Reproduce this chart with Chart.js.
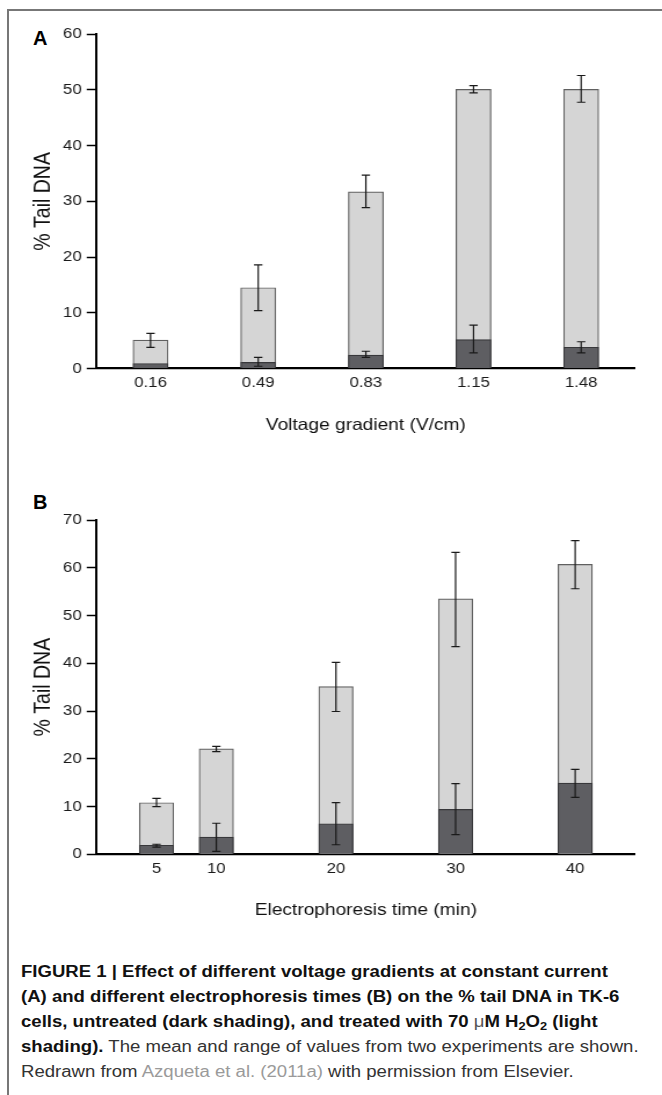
<!DOCTYPE html>
<html>
<head>
<meta charset="utf-8">
<script src="https://cdn.jsdelivr.net/npm/chart.js@4.4.1/dist/chart.umd.min.js"></script>
<style>
  html, body { margin: 0; padding: 0; background: #fff; }
  body { width: 662px; height: 1095px; position: relative; overflow: hidden;
         font-family: "Liberation Sans", Arial, sans-serif; }
  .frame { position: absolute; left: 7px; top: 9px; width: 700px; height: 1200px;
           border-top: 2px solid #777; border-left: 2px solid #777; }
  canvas { position: absolute; left: 0; }
  .letter { position: absolute; font-weight: bold; font-size: 20px; line-height: 20px; color: #000; }
  .caption { position: absolute; left: 21px; top: 959px; font-size: 16px; line-height: 25px;
             white-space: nowrap; transform: scaleX(1.16); transform-origin: 0 0; color: #333; }
  .caption b { color: #111; }
  .caption sub { font-size: 11px; vertical-align: -3px; line-height: 0; }
  .caption .mu { font-weight: normal; color: #555; }
  .caption .ref { color: #9a9a9a; }
</style>
</head>
<body>
<div class="frame"></div>

<div class="letter" style="left:33px; top:28px;">A</div>
<canvas id="chartA" width="571" height="450" style="top:0px; width:662px; height:450px;"></canvas>

<div class="letter" style="left:33px; top:492px;">B</div>
<canvas id="chartB" width="571" height="485" style="top:450px; width:662px; height:485px;"></canvas>

<div class="caption">
  <b>FIGURE 1 | Effect of different voltage gradients at constant current</b><br>
  <b>(A) and different electrophoresis times (B) on the % tail DNA in TK-6</b><br>
  <b>cells, untreated (dark shading), and treated with 70 <span class="mu">μ</span>M H<sub>2</sub>O<sub>2</sub> (light</b><br>
  <b>shading).</b> The mean and range of values from two experiments are shown.<br>
  Redrawn from <span class="ref">Azqueta et al. (2011a)</span> with permission from Elsevier.
</div>

<script>
// Panel A: voltage gradient
const voltageLabels = ['0.16', '0.49', '0.83', '1.15', '1.48'];
const voltTreated = [5.1, 14.5, 31.7, 50.1, 50.1];
const voltTreatedLow = [3.8, 10.4, 28.9, 49.5, 47.8];
const voltTreatedHigh = [6.3, 18.6, 34.7, 50.8, 52.6];
const voltControl = [0.9, 1.1, 2.4, 5.2, 3.8];
const voltControlLow = [null, 0.4, 2.0, 2.8, 2.8];
const voltControlHigh = [null, 2.0, 3.1, 7.8, 4.8];
const voltYTicks = [0, 10, 20, 30, 40, 50, 60];

// Panel B: electrophoresis time
const timeMinutes = [5, 10, 20, 30, 40];
const timeTreated = [10.8, 22.1, 35.1, 53.5, 60.7];
const timeTreatedLow = [10.0, 21.5, 29.9, 43.5, 55.6];
const timeTreatedHigh = [11.7, 22.6, 40.2, 63.2, 65.7];
const timeControl = [1.9, 3.6, 6.4, 9.4, 14.9];
const timeControlLow = [1.5, 0.6, 2.0, 4.1, 11.9];
const timeControlHigh = [2.1, 6.5, 10.8, 14.8, 17.8];
const timeYTicks = [0, 10, 20, 30, 40, 50, 60, 70];

// canvas is drawn 571px wide and shown 662px wide (the figure is stretched sideways)
const BUF_W = 571;
const SX = 662 / BUF_W;
const bx = v => v / SX;

Chart.defaults.font.family = '"Liberation Sans", Arial, sans-serif';
Chart.defaults.color = '#1a1a1a';

function errorBars(ranges) {
    return {
        id: 'errorBars',
        afterDatasetsDraw(chart) {
            const ctx = chart.ctx;
            const y = chart.scales.y;
            const cap = bx(4.2);
            ctx.save();
            ctx.strokeStyle = '#1a1a1a';
            ctx.lineWidth = 1.2;
            ranges.forEach((r, di) => {
                chart.getDatasetMeta(di).data.forEach((bar, i) => {
                    if (r.low[i] == null || r.high[i] == null) return;
                    const yl = y.getPixelForValue(r.low[i]);
                    const yh = y.getPixelForValue(r.high[i]);
                    ctx.beginPath();
                    ctx.moveTo(bar.x, yl); ctx.lineTo(bar.x, yh);
                    ctx.moveTo(bar.x - cap, yl); ctx.lineTo(bar.x + cap, yl);
                    ctx.moveTo(bar.x - cap, yh); ctx.lineTo(bar.x + cap, yh);
                    ctx.stroke();
                });
            });
            ctx.restore();
        }
    };
}

function panel(canvasId, o) {
    return new Chart(document.getElementById(canvasId), {
        type: 'bar',
        data: {
            labels: o.labels,
            datasets: [{
                label: 'Untreated',
                data: o.control,
                backgroundColor: '#5e5e62',
                borderColor: '#38383b',
                borderWidth: 1.2,
                grouped: false,
                order: 0,
                barThickness: o.barW
            }, {
                label: 'Treated with 70 μM H2O2',
                data: o.treated,
                backgroundColor: '#d5d5d5',
                borderColor: '#606060',
                borderWidth: 1.2,
                grouped: false,
                order: 1,
                barThickness: o.barW
            }]
        },
        plugins: [errorBars(o.ranges)],
        options: {
            responsive: false,
            animation: false,
            devicePixelRatio: 1,
            layout: {
                padding: { top: o.top, right: BUF_W - bx(635), left: 0, bottom: 0 }
            },
            plugins: {
                legend: { display: false },
                tooltip: { enabled: false }
            },
            scales: {
                x: Object.assign({
                    grid: { display: false, drawTicks: false },
                    border: { color: '#000', width: 2.2 },
                    ticks: { padding: 6, font: { size: 14.5 }, autoSkip: false, maxRotation: 0 },
                    title: {
                        display: true,
                        text: o.xTitle,
                        color: '#111',
                        font: { size: 16.5 },
                        padding: { top: 0, bottom: 15 }
                    },
                    afterFit: s => { s.height = o.xAxisH; }
                }, o.x),
                y: {
                    min: o.yTicks[0],
                    max: o.yTicks[o.yTicks.length - 1],
                    afterBuildTicks: s => { s.ticks = o.yTicks.map(v => ({ value: v })); },
                    grid: { drawOnChartArea: false, tickLength: bx(10), tickColor: '#000', tickWidth: 1.5 },
                    border: { color: '#000', width: 2 },
                    ticks: { padding: bx(5), font: { size: 14.5 } },
                    title: {
                        display: true,
                        text: '% Tail DNA',
                        color: '#111',
                        font: { size: 19.5 },
                        padding: { top: bx(44) - 11.7, bottom: 0 }
                    },
                    afterFit: s => { s.width = bx(96.7); }
                }
            }
        }
    });
}

panel('chartA', {
    labels: voltageLabels,
    treated: voltTreated,
    control: voltControl,
    ranges: [
        { low: voltControlLow, high: voltControlHigh },
        { low: voltTreatedLow, high: voltTreatedHigh }
    ],
    yTicks: voltYTicks,
    xTitle: 'Voltage gradient (V/cm)',
    barW: bx(35),
    top: 34.3,
    xAxisH: 450 - 368.5,
    x: {}
});

panel('chartB', {
    labels: timeMinutes,
    treated: timeMinutes.map((t, i) => ({ x: t, y: timeTreated[i] })),
    control: timeMinutes.map((t, i) => ({ x: t, y: timeControl[i] })),
    ranges: [
        { low: timeControlLow, high: timeControlHigh },
        { low: timeTreatedLow, high: timeTreatedHigh }
    ],
    yTicks: timeYTicks,
    xTitle: 'Electrophoresis time (min)',
    barW: bx(34.3),
    top: 70,
    xAxisH: 485 - (854.3 - 450),
    x: {
        type: 'linear',
        min: 0,
        max: 45,
        offset: false,
        afterBuildTicks: s => { s.ticks = timeMinutes.map(v => ({ value: v })); }
    }
});
</script>
</body>
</html>
